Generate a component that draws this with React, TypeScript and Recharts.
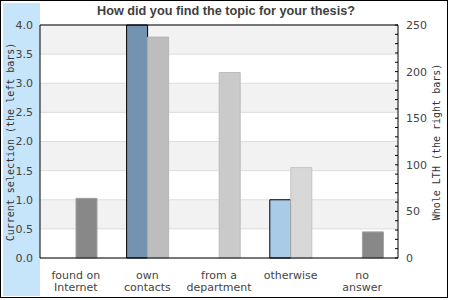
import { BarChart, Bar, XAxis, YAxis, CartesianGrid, ReferenceLine, Cell } from 'recharts';

const categories = ['found on\nInternet', 'own\ncontacts', 'from a\ndepartment', 'otherwise', 'no\nanswer'];
const currentSelection = [0, 4, 0, 1, 0];
const wholeLTH = [64, 237, 199, 97, 28];

const leftTicks = [0, 0.5, 1, 1.5, 2, 2.5, 3, 3.5, 4];
const rightTicks = [0, 10, 20, 30, 40, 50, 60, 70, 80, 90, 100, 110, 120, 130, 140, 150, 160, 170, 180, 190, 200, 210, 220, 230, 240, 250];

const leftColors = ['#7393b0', '#7393b0', '#7393b0', '#a9cbe8', '#7393b0'];
const rightColors = ['#888888', '#bdbdbd', '#cacaca', '#d8d8d8', '#888888'];
const rightStrokes = ['#a0a0a0', '#b5b5b5', '#bcbcbc', '#c4c4c4', '#a0a0a0'];

const data = categories.map((name, i) => ({
  name,
  current: currentSelection[i],
  whole: wholeLTH[i],
}));

const tickFont = { fontFamily: 'DejaVu Sans', fontSize: 11, fill: '#444' };

function CategoryTick({ x, y, payload }: any) {
  const lines = String(payload.value).split('\n');
  return (
    <text x={x} y={y + 21} textAnchor="middle" {...tickFont}>
      {lines.map((line, i) => (
        <tspan key={i} x={x} dy={i === 0 ? 0 : 11.5}>
          {line}
        </tspan>
      ))}
    </text>
  );
}

function RightTick({ x, y, payload }: any) {
  return (
    <g>
      <line x1={x - 3} x2={x} y1={y} y2={y} stroke="#000" />
      {payload.value % 50 === 0 && (
        <text x={x + 8} y={y} dy="0.36em" textAnchor="start" {...tickFont}>
          {payload.value}
        </text>
      )}
    </g>
  );
}

export default function App() {
  return (
    <div style={{ position: 'relative', width: 450, height: 300, background: '#fff' }}>
      <style>{'body{margin:0}'}</style>
      <div
        style={{
          position: 'absolute', left: 0, top: 0, width: 448, height: 298,
          border: '1px solid #000', boxSizing: 'border-box',
        }}
      />
      <div style={{ position: 'absolute', left: 3, top: 3, width: 37, height: 293, background: '#c6e5fb' }} />
      <div
        style={{
          position: 'absolute', left: 0, top: 4, width: 452, textAlign: 'center',
          fontFamily: 'Liberation Sans', fontWeight: 'bold', fontSize: 12.7, color: '#404040',
        }}
      >
        How did you find the topic for your thesis?
      </div>
      <div style={{ position: 'absolute', left: 0, top: 0 }}>
        <BarChart
          width={450}
          height={300}
          data={data}
          margin={{ top: 25, right: 0, bottom: 0, left: 0 }}
          barGap={0}
          barSize={21}
        >
          <CartesianGrid
            yAxisId="left"
            vertical={false}
            stroke="#dddddd"
            horizontalFill={['#f2f2f2', '#ffffff']}
          />
          <XAxis
            dataKey="name"
            height={42}
            axisLine={{ stroke: '#000' }}
            tickLine={false}
            tickSize={0}
            tickMargin={0}
            interval={0}
            tick={<CategoryTick />}
          />
          <YAxis
            yAxisId="left"
            width={40}
            domain={[0, 4]}
            ticks={leftTicks}
            interval={0}
            axisLine={{ stroke: '#000' }}
            tickLine={false}
            tickSize={0}
            tickMargin={7}
            tickFormatter={(v: number) => v.toFixed(1)}
            tick={tickFont}
          />
          <YAxis
            yAxisId="right"
            orientation="right"
            width={52}
            domain={[0, 250]}
            ticks={rightTicks}
            interval={0}
            axisLine={{ stroke: '#000' }}
            tickLine={false}
            tickSize={0}
            tickMargin={0}
            tick={<RightTick />}
          />
          <ReferenceLine yAxisId="left" y={4} stroke="#000" />
          <Bar yAxisId="left" dataKey="current" stroke="#000" strokeWidth={1} isAnimationActive={false}>
            {data.map((_, i) => (
              <Cell key={i} fill={leftColors[i]} />
            ))}
          </Bar>
          <Bar yAxisId="right" dataKey="whole" strokeWidth={1} isAnimationActive={false}>
            {data.map((_, i) => (
              <Cell key={i} fill={rightColors[i]} stroke={rightStrokes[i]} />
            ))}
          </Bar>
        </BarChart>
      </div>
      <div style={{ position: 'absolute', left: 10, top: 142, width: 0, height: 0 }}>
        <div
          style={{
            position: 'absolute', left: 0, top: 0, whiteSpace: 'nowrap',
            transform: 'translate(-50%, -50%) rotate(-90deg)',
            fontFamily: 'DejaVu Sans Mono', fontSize: 10, color: '#333',
          }}
        >
          Current selection (the left bars)
        </div>
      </div>
      <div style={{ position: 'absolute', left: 436, top: 142, width: 0, height: 0 }}>
        <div
          style={{
            position: 'absolute', left: 0, top: 0, whiteSpace: 'nowrap',
            transform: 'translate(-50%, -50%) rotate(-90deg)',
            fontFamily: 'DejaVu Sans Mono', fontSize: 10, color: '#333',
          }}
        >
          Whole LTH (the right bars)
        </div>
      </div>
    </div>
  );
}
